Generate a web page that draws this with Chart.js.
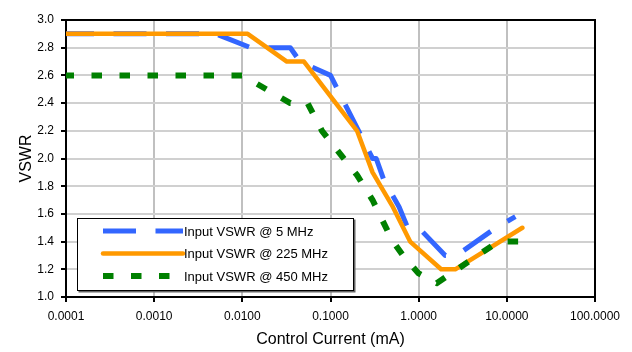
<!DOCTYPE html>
<html><head><meta charset="utf-8">
<script src="https://cdn.jsdelivr.net/npm/chart.js@4/dist/chart.umd.min.js"></script>
<style>html,body{margin:0;padding:0;background:#fff;}#wrap{width:632px;height:352px;}</style>
</head><body><div id="wrap"><canvas id="c" width="632" height="352"></canvas></div>
<script>
// ---- data ----
const xTickValues = [0.0001, 0.001, 0.01, 0.1, 1, 10, 100];
const xTickLabels = ['0.0001', '0.0010', '0.0100', '0.1000', '1.0000', '10.0000', '100.0000'];
const yTickValues = [1.0, 1.2, 1.4, 1.6, 1.8, 2.0, 2.2, 2.4, 2.6, 2.8, 3.0];
const yTickLabels = ['1.0', '1.2', '1.4', '1.6', '1.8', '2.0', '2.2', '2.4', '2.6', '2.8', '3.0'];
const seriesNames = ['Input VSWR @ 5 MHz', 'Input VSWR @ 225 MHz', 'Input VSWR @ 450 MHz'];
const xTitle = 'Control Current (mA)';
const yTitle = 'VSWR';

const current5 = [0.0001, 0.005, 0.0125, 0.035, 0.045, 0.1, 0.3, 0.33, 0.4, 0.6, 0.75, 1.0, 2.0, 2.7, 7.5, 12.5];
const vswr5    = [2.9,    2.9,   2.8,    2.8,   2.7,   2.6, 2.0, 2.0,  1.85, 1.65, 1.5, 1.5, 1.3, 1.3, 1.5, 1.58];

const current225 = [0.0001, 0.0115, 0.032, 0.05, 0.2, 0.3, 0.5, 0.8, 1.8, 2.6, 15];
const vswr225    = [2.9,    2.9,    2.7,   2.7,  2.2, 1.9, 1.66, 1.4, 1.2, 1.2, 1.5];

const current450 = [0.0001, 0.01, 0.035, 0.055, 0.08, 0.1, 0.2, 0.3, 0.5, 0.7, 1.0, 1.6, 8, 15];
const vswr450    = [2.6,    2.6,  2.4,   2.4,   2.2,  2.12, 1.88, 1.7, 1.41, 1.28, 1.17, 1.1, 1.4, 1.4];

const pts = (xs, ys) => xs.map((x, i) => ({x: x, y: ys[i]}));

const FONT = "'Liberation Sans', Arial, sans-serif";

const framePlugin = {
  id: 'frame',
  beforeDatasetsDraw(chart) {
    const {ctx, chartArea: a} = chart;
    ctx.save();
    ctx.strokeStyle = '#000';
    ctx.lineWidth = 2;
    ctx.strokeRect(a.left, a.top, a.right - a.left, a.bottom - a.top);
    ctx.restore();
  }
};

const legendPlugin = {
  id: 'boxLegend',
  afterDatasetsDraw(chart) {
    const {ctx, chartArea: a} = chart;
    const bw = 277, bh = 73;
    const bx = a.left + 11, by = a.bottom - 6 - bh;
    ctx.save();
    ctx.fillStyle = '#666';
    ctx.fillRect(bx + 1.5, by + 1.5, bw, bh);
    ctx.fillStyle = '#fff';
    ctx.fillRect(bx, by, bw, bh);
    ctx.strokeStyle = '#000';
    ctx.lineWidth = 1;
    ctx.strokeRect(bx + 0.5, by + 0.5, bw - 1, bh - 1);
    chart.data.datasets.forEach((ds, i) => {
      const y = by + 13 + i * 22.5;
      ctx.save();
      ctx.strokeStyle = ds.borderColor;
      ctx.lineWidth = ds.borderWidth;
      ctx.lineCap = ds.borderCapStyle || 'butt';
      ctx.setLineDash(ds.borderDash || []);
      ctx.beginPath();
      ctx.moveTo(bx + 26, y);
      ctx.lineTo(bx + 106, y);
      ctx.stroke();
      ctx.restore();
      ctx.fillStyle = '#000';
      ctx.font = '13px ' + FONT;
      ctx.textBaseline = 'middle';
      ctx.textAlign = 'left';
      ctx.fillText(ds.label, bx + 107, y + 1);
    });
    ctx.restore();
  }
};

new Chart(document.getElementById('c'), {
  type: 'line',
  data: {
    datasets: [
      { label: seriesNames[0], data: pts(current5, vswr5), borderColor: '#3366FF', borderWidth: 5,
        borderDash: [33, 19.5], borderDashOffset: 5, borderCapStyle: 'butt', borderJoinStyle: 'round', pointRadius: 0, fill: false, tension: 0, order: 3 },
      { label: seriesNames[1], data: pts(current225, vswr225), borderColor: '#FF9900', borderWidth: 4.5,
        borderCapStyle: 'round', borderJoinStyle: 'round', pointRadius: 0, fill: false, tension: 0, order: 2 },
      { label: seriesNames[2], data: pts(current450, vswr450), borderColor: '#008000', borderWidth: 6,
        borderDash: [10.5, 17.5], borderDashOffset: 2.5, borderCapStyle: 'butt', borderJoinStyle: 'round', pointRadius: 0, fill: false, tension: 0, order: 1 }
    ]
  },
  options: {
    responsive: false,
    animation: false,
    devicePixelRatio: 1,
    layout: { padding: { left: 0, right: 37, top: 20, bottom: 0 } },
    plugins: { legend: { display: false }, tooltip: { enabled: false }, title: { display: false } },
    scales: {
      x: {
        type: 'logarithmic',
        min: xTickValues[0],
        max: xTickValues[xTickValues.length - 1],
        afterBuildTicks: (s) => { s.ticks = xTickValues.map(v => ({value: v})); },
        afterFit: (s) => { s.height = 55; },
        ticks: {
          autoSkip: false, maxRotation: 0, minRotation: 0, padding: 7, color: '#000',
          font: { family: FONT, size: 12 },
          callback: (v, i) => xTickLabels[i]
        },
        grid: { color: '#c0c0c0', lineWidth: 2, tickColor: '#000', tickLength: 5, tickWidth: 2, drawTicks: true },
        border: { display: false },
        title: { display: true, text: xTitle, color: '#000', font: { family: FONT, size: 16 }, padding: { top: 0, bottom: 3 } }
      },
      y: {
        type: 'linear',
        min: yTickValues[0],
        max: yTickValues[yTickValues.length - 1],
        afterBuildTicks: (s) => { s.ticks = yTickValues.map(v => ({value: v})); },
        afterFit: (s) => { s.width = 66; },
        ticks: {
          autoSkip: false, padding: 7, color: '#000',
          font: { family: FONT, size: 12 },
          callback: (v, i) => yTickLabels[i]
        },
        grid: { color: '#d0d0d0', lineWidth: 2, tickColor: '#000', tickLength: 5, tickWidth: 2, drawTicks: true },
        border: { display: false },
        title: { display: true, text: yTitle, color: '#000', font: { family: FONT, size: 16 }, padding: { top: 17, bottom: 0 } }
      }
    }
  },
  plugins: [framePlugin, legendPlugin]
});
</script></body></html>
